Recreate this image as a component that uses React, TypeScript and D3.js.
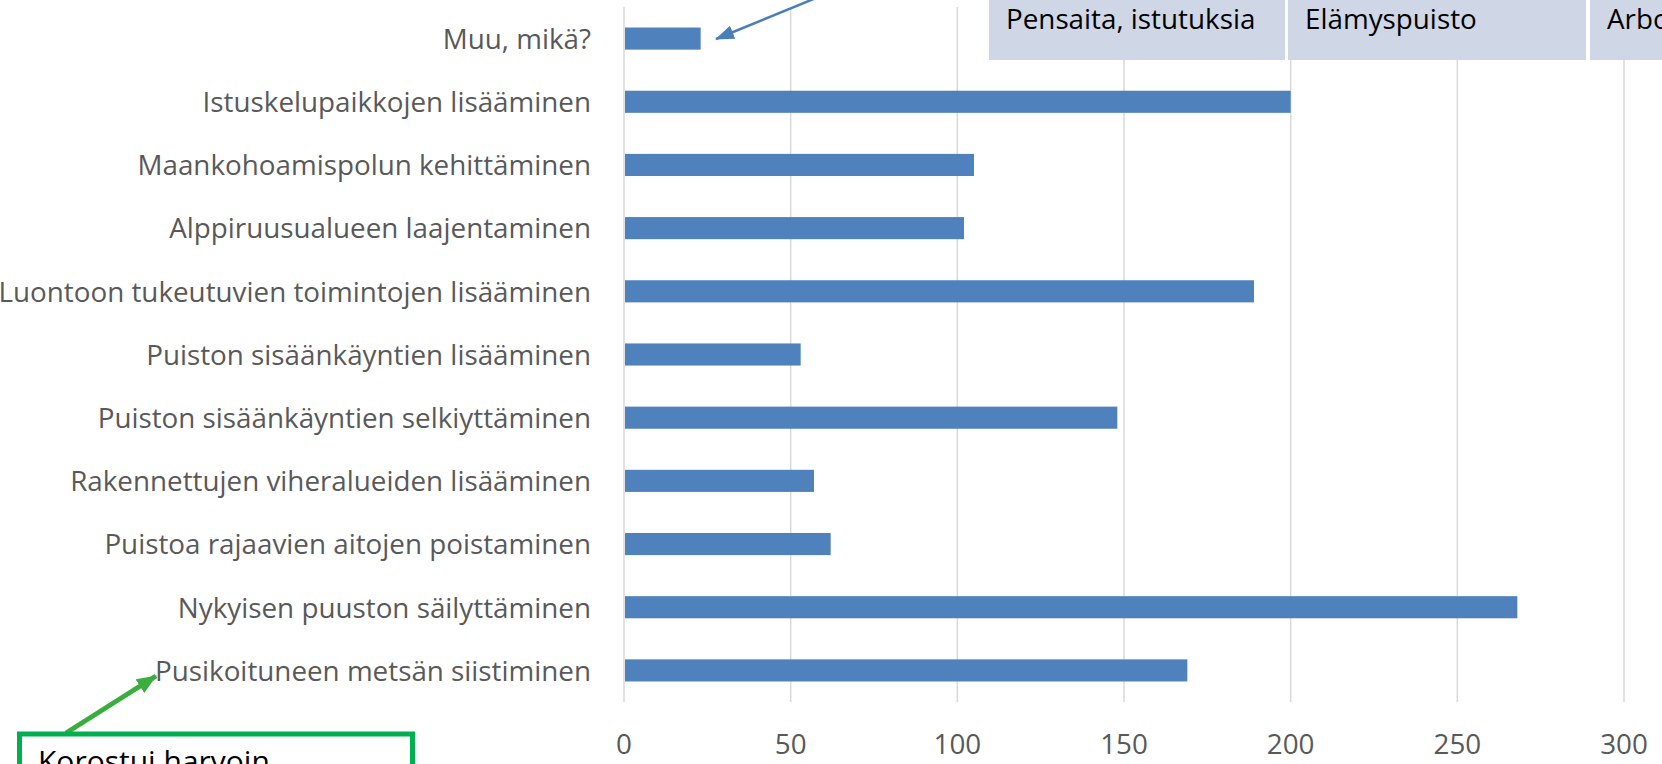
import React, { useEffect, useRef } from "react";
import * as d3 from "d3";

// Categories top -> bottom as in the chart
const categories = [
  "Muu, mikä?",
  "Istuskelupaikkojen lisääminen",
  "Maankohoamispolun kehittäminen",
  "Alppiruusualueen laajentaminen",
  "Luontoon tukeutuvien toimintojen lisääminen",
  "Puiston sisäänkäyntien lisääminen",
  "Puiston sisäänkäyntien selkiyttäminen",
  "Rakennettujen viheralueiden lisääminen",
  "Puistoa rajaavien aitojen poistaminen",
  "Nykyisen puuston säilyttäminen",
  "Pusikoituneen metsän siistiminen",
];
const values = [23, 200, 105, 102, 189, 53, 148, 57, 62, 268, 169];
const xTicks = [0, 50, 100, 150, 200, 250, 300];
const boxLabels = ["Pensaita, istutuksia", "Elämyspuisto", "Arboretum"];
const noteText = "Korostui harvoin";

const App = () => {
  const svgRef = useRef<SVGSVGElement>(null);
  const width = 1662;
  const height = 764;
  const font = "'Open Sans', 'Noto Sans', sans-serif";

  useEffect(() => {
    if (!svgRef.current) return;
    const svg = d3.select(svgRef.current);
    svg.selectAll("*").remove();

    const x = d3.scaleLinear().domain([0, 300]).range([624, 1624]);
    const y = d3
      .scaleBand()
      .domain(categories)
      .range([7, 702])
      .paddingInner(0.65)
      .paddingOuter(0.325);

    // arrow heads
    const defs = svg.append("defs");
    const marker = (id, color, len, wid) =>
      defs
        .append("marker")
        .attr("id", id)
        .attr("markerUnits", "userSpaceOnUse")
        .attr("markerWidth", len)
        .attr("markerHeight", wid)
        .attr("refX", len - 1)
        .attr("refY", wid / 2)
        .attr("orient", "auto")
        .append("path")
        .attr("d", `M0,0L${len},${wid / 2}L0,${wid}Z`)
        .attr("fill", color);
    marker("blueHead", "#4a7ebb", 19, 14);
    marker("greenHead", "#3aad3f", 20, 16);

    // gridlines
    svg
      .append("g")
      .selectAll("line")
      .data(xTicks)
      .join("line")
      .attr("x1", (d) => x(d))
      .attr("x2", (d) => x(d))
      .attr("y1", 7)
      .attr("y2", 702)
      .attr("stroke", "#d9d9d9")
      .attr("stroke-width", 1.5);

    // bars
    svg
      .append("g")
      .selectAll("rect")
      .data(categories)
      .join("rect")
      .attr("x", x(0) + 1)
      .attr("y", (d) => y(d))
      .attr("width", (d, i) => x(values[i]) - x(0) - 1)
      .attr("height", y.bandwidth())
      .attr("fill", "#4f81bd");

    // category labels
    svg
      .append("g")
      .selectAll("text")
      .data(categories)
      .join("text")
      .attr("x", 591)
      .attr("y", (d) => y(d) + y.bandwidth() / 2)
      .attr("dy", "0.37em")
      .attr("text-anchor", "end")
      .attr("fill", "#595959")
      .style("font-family", font)
      .style("font-size", "27.8px")
      .text((d) => d);

    // x tick labels
    svg
      .append("g")
      .selectAll("text")
      .data(xTicks)
      .join("text")
      .attr("x", (d) => x(d))
      .attr("y", 754)
      .attr("text-anchor", "middle")
      .attr("fill", "#595959")
      .style("font-family", font)
      .style("font-size", "27.8px")
      .text((d) => d);

    // annotation boxes on top
    const boxX = [989, 1288, 1590];
    const boxW = [296, 298, 120];
    const boxes = svg.append("g");
    boxLabels.forEach((label, i) => {
      boxes
        .append("rect")
        .attr("x", boxX[i])
        .attr("y", -5)
        .attr("width", boxW[i])
        .attr("height", 65)
        .attr("fill", "#cfd6e6");
      boxes
        .append("text")
        .attr("x", boxX[i] + 17)
        .attr("y", 29)
        .attr("fill", "#000")
        .style("font-family", font)
        .style("font-size", "27.8px")
        .text(label);
    });

    // blue arrow pointing at the "Muu" bar
    svg
      .append("line")
      .attr("x1", 816)
      .attr("y1", -2)
      .attr("x2", 716)
      .attr("y2", 39)
      .attr("stroke", "#4a7ebb")
      .attr("stroke-width", 2.5)
      .attr("marker-end", "url(#blueHead)");

    // green note box + arrow
    svg
      .append("line")
      .attr("x1", 66)
      .attr("y1", 733)
      .attr("x2", 156)
      .attr("y2", 676)
      .attr("stroke", "#3aad3f")
      .attr("stroke-width", 5)
      .attr("marker-end", "url(#greenHead)");
    svg
      .append("rect")
      .attr("x", 19.5)
      .attr("y", 734)
      .attr("width", 393)
      .attr("height", 70)
      .attr("fill", "#fff")
      .attr("stroke", "#00b050")
      .attr("stroke-width", 5);
    svg
      .append("text")
      .attr("x", 38)
      .attr("y", 772)
      .attr("fill", "#000")
      .style("font-family", font)
      .style("font-size", "30px")
      .text(noteText);
  }, []);

  return (
    <div>
      <svg
        ref={svgRef}
        width={width}
        height={height}
        style={{ position: "absolute", left: 0, top: 0, background: "#fff" }}
      ></svg>
    </div>
  );
};

export default App;
